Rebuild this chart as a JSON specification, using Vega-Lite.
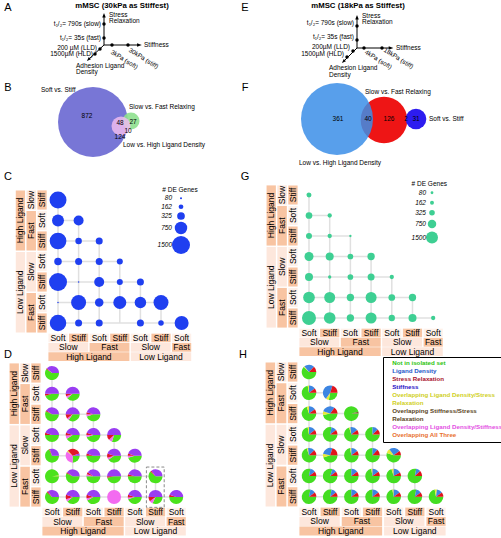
{
"$schema": "https://vega.github.io/schema/vega-lite/v6.json",
"padding": 0,
"background": "white",
"spacing": 0,
"config": {"view": {"stroke": null}, "font": "Liberation Sans"},
"resolve": {"scale": {"size": "independent", "color": "independent"}},
"hconcat": [
{"vconcat": [
 {"width": 250, "height": 183, "data": {"name": "ab"},
  "encoding": {"x": {"field": "x", "type": "quantitative", "scale": {"domain": [0, 250], "nice": false, "zero": false}, "axis": null},
               "y": {"field": "y", "type": "quantitative", "scale": {"domain": [0, 183], "reverse": true, "nice": false, "zero": false}, "axis": null}},
  "layer": [
   {"transform": [{"filter": "datum.s=='Soft vs. Stiff'"}], "mark": {"type": "circle", "color": "#7876d6", "opacity": 1}, "encoding": {"size": {"field": "n", "type": "quantitative", "scale": {"domain": [0, 1054], "range": [0, 4900]}, "legend": null}}},
   {"transform": [{"filter": "datum.s=='Slow vs. Fast Relaxing'"}], "mark": {"type": "circle", "color": "#8ee08e", "opacity": 0.9}, "encoding": {"size": {"field": "n", "type": "quantitative", "legend": null}}},
   {"transform": [{"filter": "datum.s=='Low vs. High Ligand Density'"}], "mark": {"type": "circle", "color": "#efbcef", "opacity": 0.85}, "encoding": {"size": {"field": "n", "type": "quantitative", "legend": null}}},
   {"transform": [{"filter": "datum.g=='ax'"}], "mark": {"type": "rule", "color": "black", "strokeWidth": 1}, "encoding": {"x2": {"field": "x2"}, "y2": {"field": "y2"}}},
   {"transform": [{"filter": "datum.g=='ar'"}], "mark": {"type": "point", "filled": true, "color": "black", "opacity": 1, "size": 30}, "encoding": {"shape": {"field": "d", "type": "nominal", "scale": {"domain": ["up", "right", "dl"], "range": ["M0,-1L0.65,0.7L-0.65,0.7Z", "M1,0L-0.7,0.65L-0.7,-0.65Z", "M-0.75,0.75L0.7,0.08L-0.08,-0.7Z"]}, "legend": null}}},
   {"transform": [{"filter": "datum.g=='dot'"}], "mark": {"type": "circle", "color": "black", "opacity": 1, "size": 12}},
   {"transform": [{"filter": "datum.g=='tr'"}], "mark": {"type": "text", "align": "right", "fontSize": 6.5}, "encoding": {"text": {"field": "t", "type": "nominal"}}},
   {"transform": [{"filter": "datum.g=='tl'"}], "mark": {"type": "text", "align": "left", "fontSize": 6.5}, "encoding": {"text": {"field": "t", "type": "nominal"}}},
   {"transform": [{"filter": "datum.g=='rot'"}], "mark": {"type": "text", "align": "left", "baseline": "top", "angle": 32, "fontSize": 6.3}, "encoding": {"text": {"field": "t", "type": "nominal"}}},
   {"transform": [{"filter": "datum.g=='title'"}], "mark": {"type": "text", "fontSize": 7.8, "fontWeight": "bold"}, "encoding": {"text": {"field": "t", "type": "nominal"}}},
   {"transform": [{"filter": "datum.g=='let'"}], "mark": {"type": "text", "fontSize": 11}, "encoding": {"text": {"field": "t", "type": "nominal"}}},
   {"transform": [{"filter": "datum.g=='num'"}], "mark": {"type": "text", "fontSize": 6.5}, "encoding": {"text": {"field": "t", "type": "nominal"}}}
  ]},
 {"width": 250, "height": 174,
  "layer": [
   {"data": {"name": "idx"}, "transform": [{"calculate": "0", "as": "z"}], "mark": {"type": "rule", "color": "#e0e0e0", "strokeWidth": 1.5}, "encoding": {"x": {"field": "z", "type": "quantitative", "scale": {"domain": [-2.816, 9.32], "nice": false, "zero": false}, "axis": null}, "x2": {"field": "i"}, "y": {"field": "i", "type": "quantitative", "scale": {"domain": [-0.829, 7.659], "reverse": true, "nice": false, "zero": false}, "axis": null}}},
   {"data": {"name": "idx"}, "transform": [{"calculate": "6", "as": "z"}], "mark": {"type": "rule", "color": "#e0e0e0", "strokeWidth": 1.5}, "encoding": {"x": {"field": "i", "type": "quantitative", "axis": null}, "y": {"field": "i", "type": "quantitative", "axis": null}, "y2": {"field": "z"}}},
   {"data": {"name": "rh"}, "transform": [{"calculate": "(datum.a+datum.b)/2", "as": "m"}, {"calculate": "datum.l=='lig' ? -2.05 : datum.l=='sf' ? -1.53 : -1.0", "as": "x0"}, {"calculate": "datum.l=='lig' ? -1.6 : datum.l=='sf' ? -1.07 : -0.55", "as": "x1"}, {"calculate": "(datum.x0+datum.x1)/2", "as": "xm"}], "layer": [
     {"mark": {"type": "rect", "yOffset": -9.6, "y2Offset": 9.6}, "encoding": {"x": {"field": "x0", "type": "quantitative", "axis": null}, "x2": {"field": "x1"}, "y": {"field": "a", "type": "quantitative", "axis": null}, "y2": {"field": "b"}, "fill": {"field": "t", "type": "nominal", "scale": {"domain": ["High Ligand", "Low Ligand", "Slow", "Fast", "Soft", "Stiff"], "range": ["#f8c4a2", "#fde7dc", "#fde7dc", "#f8c4a2", "#fef1ea", "#f8c4a2"]}, "legend": null}}},
     {"mark": {"type": "text", "angle": 270, "fontSize": 8.5}, "encoding": {"x": {"field": "xm", "type": "quantitative", "axis": null}, "y": {"field": "m", "type": "quantitative", "axis": null}, "text": {"field": "t", "type": "nominal"}}}]},
   {"data": {"name": "ch"}, "transform": [{"calculate": "(datum.a+datum.b)/2", "as": "m"}, {"calculate": "datum.l=='ss' ? 6.52 : datum.l=='sf' ? 6.97 : 7.43", "as": "y0"}, {"calculate": "datum.l=='ss' ? 6.94 : datum.l=='sf' ? 7.4 : 7.86", "as": "y1"}, {"calculate": "(datum.y0+datum.y1)/2", "as": "ym"}], "layer": [
     {"mark": {"type": "rect", "xOffset": -9.6, "x2Offset": 9.6}, "encoding": {"x": {"field": "a", "type": "quantitative", "axis": null}, "x2": {"field": "b"}, "y": {"field": "y0", "type": "quantitative", "axis": null}, "y2": {"field": "y1"}, "fill": {"field": "t", "type": "nominal", "legend": null}}},
     {"mark": {"type": "text", "fontSize": 8.5}, "encoding": {"x": {"field": "m", "type": "quantitative", "axis": null}, "y": {"field": "ym", "type": "quantitative", "axis": null}, "text": {"field": "t", "type": "nominal"}}}]},
   {"data": {"name": "cb"}, "mark": {"type": "circle", "color": "#1f3ff0", "opacity": 1}, "encoding": {"x": {"field": "c", "type": "quantitative", "axis": null}, "y": {"field": "r", "type": "quantitative", "axis": null},
     "size": {"field": "n", "type": "quantitative", "scale": {"domain": [62, 1500], "range": [0, 324], "zero": false, "clamp": true},
       "legend": {"title": "# DE Genes", "values": [80, 162, 325, 750, 1500], "format": "d", "orient": "none", "legendX": 162.3, "legendY": 3.5, "columns": 1, "symbolOffset": 9.7, "labelOffset": -18, "labelAlign": "right", "labelFontStyle": "italic", "labelFontSize": 6.5, "titleFontSize": 6.5, "titleFontWeight": "normal", "titlePadding": 2, "rowPadding": 1.5, "symbolFillColor": "#1f3ff0", "symbolStrokeWidth": 0, "symbolOpacity": 1, "padding": 0}}}}
  ]},
 {"width": 250, "height": 181,
  "layer": [
   {"data": {"name": "idx"}, "transform": [{"calculate": "0", "as": "z"}], "mark": {"type": "rule", "color": "#e0e0e0", "strokeWidth": 1.5}, "encoding": {"x": {"field": "z", "type": "quantitative", "scale": {"domain": [-2.512, 9.565], "nice": false, "zero": false}, "axis": null}, "x2": {"field": "i"}, "y": {"field": "i", "type": "quantitative", "scale": {"domain": [-0.774, 7.983], "reverse": true, "nice": false, "zero": false}, "axis": null}}},
   {"data": {"name": "idx"}, "transform": [{"calculate": "6", "as": "z"}], "mark": {"type": "rule", "color": "#e0e0e0", "strokeWidth": 1.5}, "encoding": {"x": {"field": "i", "type": "quantitative", "axis": null}, "y": {"field": "i", "type": "quantitative", "axis": null}, "y2": {"field": "z"}}},
   {"data": {"name": "rh"}, "transform": [{"calculate": "(datum.a+datum.b)/2", "as": "m"}, {"calculate": "datum.l=='lig' ? -2.05 : datum.l=='sf' ? -1.53 : -1.0", "as": "x0"}, {"calculate": "datum.l=='lig' ? -1.6 : datum.l=='sf' ? -1.07 : -0.55", "as": "x1"}, {"calculate": "(datum.x0+datum.x1)/2", "as": "xm"}], "layer": [
     {"mark": {"type": "rect", "yOffset": -9.6, "y2Offset": 9.6}, "encoding": {"x": {"field": "x0", "type": "quantitative", "axis": null}, "x2": {"field": "x1"}, "y": {"field": "a", "type": "quantitative", "axis": null}, "y2": {"field": "b"}, "fill": {"field": "t", "type": "nominal", "scale": {"domain": ["High Ligand", "Low Ligand", "Slow", "Fast", "Soft", "Stiff"], "range": ["#f8c4a2", "#fde7dc", "#fde7dc", "#f8c4a2", "#fef1ea", "#f8c4a2"]}, "legend": null}}},
     {"mark": {"type": "text", "angle": 270, "fontSize": 8.5}, "encoding": {"x": {"field": "xm", "type": "quantitative", "axis": null}, "y": {"field": "m", "type": "quantitative", "axis": null}, "text": {"field": "t", "type": "nominal"}}}]},
   {"data": {"name": "ch"}, "transform": [{"calculate": "(datum.a+datum.b)/2", "as": "m"}, {"calculate": "datum.l=='ss' ? 6.52 : datum.l=='sf' ? 6.97 : 7.43", "as": "y0"}, {"calculate": "datum.l=='ss' ? 6.94 : datum.l=='sf' ? 7.4 : 7.86", "as": "y1"}, {"calculate": "(datum.y0+datum.y1)/2", "as": "ym"}], "layer": [
     {"mark": {"type": "rect", "xOffset": -9.6, "x2Offset": 9.6}, "encoding": {"x": {"field": "a", "type": "quantitative", "axis": null}, "x2": {"field": "b"}, "y": {"field": "y0", "type": "quantitative", "axis": null}, "y2": {"field": "y1"}, "fill": {"field": "t", "type": "nominal", "legend": null}}},
     {"mark": {"type": "text", "fontSize": 8.5}, "encoding": {"x": {"field": "m", "type": "quantitative", "axis": null}, "y": {"field": "ym", "type": "quantitative", "axis": null}, "text": {"field": "t", "type": "nominal"}}}]},
   {"data": {"name": "mk"}, "mark": {"type": "text", "fontSize": 11}, "encoding": {"x": {"field": "x", "type": "quantitative", "axis": null}, "y": {"field": "y", "type": "quantitative", "axis": null}, "text": {"field": "t", "type": "nominal"}}},
   {"data": {"name": "bx"}, "mark": {"type": "rect", "filled": false, "color": "#8a8a8a", "strokeDash": [3, 2], "strokeWidth": 1}, "encoding": {"x": {"field": "x0", "type": "quantitative", "axis": null}, "x2": {"field": "x1"}, "y": {"field": "y0", "type": "quantitative", "axis": null}, "y2": {"field": "y1"}}},
   {"data": {"name": "dp"}, "transform": [{"stack": "v", "groupby": ["r", "c"], "offset": "normalize", "as": ["t0", "t1"]}],
    "mark": {"type": "arc", "outerRadius": 7},
    "encoding": {"x": {"field": "c", "type": "quantitative", "axis": null}, "y": {"field": "r", "type": "quantitative", "axis": null},
      "theta": {"field": "t0", "type": "quantitative", "scale": {"domain": [0, 1], "range": [1.5708, 7.854]}}, "theta2": {"field": "t1"},
      "color": {"field": "k", "type": "nominal", "scale": {"domain": ["N", "LD", "SR", "ST", "LDSR", "STSR", "LDST", "ALL"], "range": ["#4be21c", "#3a7fe0", "#e11428", "#9a3df2", "#e2e23a", "#7a6030", "#f36bf0", "#f08030"]}, "legend": null}}}
  ]}
], "spacing": 0, "bounds": "flush", "resolve": {"scale": {"size": "independent", "color": "independent"}}},
{"vconcat": [
 {"width": 251, "height": 183, "data": {"name": "ef"},
  "encoding": {"x": {"field": "x", "type": "quantitative", "scale": {"domain": [0, 251], "nice": false, "zero": false}, "axis": null},
               "y": {"field": "y", "type": "quantitative", "scale": {"domain": [0, 183], "reverse": true, "nice": false, "zero": false}, "axis": null}},
  "layer": [
   {"transform": [{"filter": "datum.s=='SR'"}], "mark": {"type": "circle", "color": "#ee1515", "opacity": 1}, "encoding": {"size": {"field": "n", "type": "quantitative", "scale": {"domain": [0, 401], "range": [0, 5184]}, "legend": null}}},
   {"transform": [{"filter": "datum.s=='LD'"}], "mark": {"type": "circle", "color": "#3b8ee8", "opacity": 0.85}, "encoding": {"size": {"field": "n", "type": "quantitative", "legend": null}}},
   {"transform": [{"filter": "datum.s=='ST'"}], "mark": {"type": "circle", "color": "#2d1cf0", "opacity": 1}, "encoding": {"size": {"field": "n", "type": "quantitative", "legend": null}}},
   {"transform": [{"filter": "datum.g=='ax'"}], "mark": {"type": "rule", "color": "black", "strokeWidth": 1}, "encoding": {"x2": {"field": "x2"}, "y2": {"field": "y2"}}},
   {"transform": [{"filter": "datum.g=='ar'"}], "mark": {"type": "point", "filled": true, "color": "black", "opacity": 1, "size": 30}, "encoding": {"shape": {"field": "d", "type": "nominal", "scale": {"domain": ["up", "right", "dl"], "range": ["M0,-1L0.65,0.7L-0.65,0.7Z", "M1,0L-0.7,0.65L-0.7,-0.65Z", "M-0.75,0.75L0.7,0.08L-0.08,-0.7Z"]}, "legend": null}}},
   {"transform": [{"filter": "datum.g=='dot'"}], "mark": {"type": "circle", "color": "black", "opacity": 1, "size": 12}},
   {"transform": [{"filter": "datum.g=='tr'"}], "mark": {"type": "text", "align": "right", "fontSize": 6.5}, "encoding": {"text": {"field": "t", "type": "nominal"}}},
   {"transform": [{"filter": "datum.g=='tl'"}], "mark": {"type": "text", "align": "left", "fontSize": 6.5}, "encoding": {"text": {"field": "t", "type": "nominal"}}},
   {"transform": [{"filter": "datum.g=='rot'"}], "mark": {"type": "text", "align": "left", "baseline": "top", "angle": 32, "fontSize": 6.3}, "encoding": {"text": {"field": "t", "type": "nominal"}}},
   {"transform": [{"filter": "datum.g=='title'"}], "mark": {"type": "text", "fontSize": 7.8, "fontWeight": "bold"}, "encoding": {"text": {"field": "t", "type": "nominal"}}},
   {"transform": [{"filter": "datum.g=='num'"}], "mark": {"type": "text", "fontSize": 6.5}, "encoding": {"text": {"field": "t", "type": "nominal"}}}
  ]},
 {"width": 251, "height": 174,
  "layer": [
   {"data": {"name": "idx"}, "transform": [{"calculate": "0", "as": "z"}], "mark": {"type": "rule", "color": "#e0e0e0", "strokeWidth": 1.5}, "encoding": {"x": {"field": "z", "type": "quantitative", "scale": {"domain": [-2.85, 9.276], "nice": false, "zero": false}, "axis": null}, "x2": {"field": "i"}, "y": {"field": "i", "type": "quantitative", "scale": {"domain": [-0.585, 7.903], "reverse": true, "nice": false, "zero": false}, "axis": null}}},
   {"data": {"name": "idx"}, "transform": [{"calculate": "6", "as": "z"}], "mark": {"type": "rule", "color": "#e0e0e0", "strokeWidth": 1.5}, "encoding": {"x": {"field": "i", "type": "quantitative", "axis": null}, "y": {"field": "i", "type": "quantitative", "axis": null}, "y2": {"field": "z"}}},
   {"data": {"name": "rh"}, "transform": [{"calculate": "(datum.a+datum.b)/2", "as": "m"}, {"calculate": "datum.l=='lig' ? -2.05 : datum.l=='sf' ? -1.53 : -1.0", "as": "x0"}, {"calculate": "datum.l=='lig' ? -1.6 : datum.l=='sf' ? -1.07 : -0.55", "as": "x1"}, {"calculate": "(datum.x0+datum.x1)/2", "as": "xm"}], "layer": [
     {"mark": {"type": "rect", "yOffset": -9.6, "y2Offset": 9.6}, "encoding": {"x": {"field": "x0", "type": "quantitative", "axis": null}, "x2": {"field": "x1"}, "y": {"field": "a", "type": "quantitative", "axis": null}, "y2": {"field": "b"}, "fill": {"field": "t", "type": "nominal", "scale": {"domain": ["High Ligand", "Low Ligand", "Slow", "Fast", "Soft", "Stiff"], "range": ["#f8c4a2", "#fde7dc", "#fde7dc", "#f8c4a2", "#fef1ea", "#f8c4a2"]}, "legend": null}}},
     {"mark": {"type": "text", "angle": 270, "fontSize": 8.5}, "encoding": {"x": {"field": "xm", "type": "quantitative", "axis": null}, "y": {"field": "m", "type": "quantitative", "axis": null}, "text": {"field": "t", "type": "nominal"}}}]},
   {"data": {"name": "ch"}, "transform": [{"calculate": "(datum.a+datum.b)/2", "as": "m"}, {"calculate": "datum.l=='ss' ? 6.52 : datum.l=='sf' ? 6.97 : 7.43", "as": "y0"}, {"calculate": "datum.l=='ss' ? 6.94 : datum.l=='sf' ? 7.4 : 7.86", "as": "y1"}, {"calculate": "(datum.y0+datum.y1)/2", "as": "ym"}], "layer": [
     {"mark": {"type": "rect", "xOffset": -9.6, "x2Offset": 9.6}, "encoding": {"x": {"field": "a", "type": "quantitative", "axis": null}, "x2": {"field": "b"}, "y": {"field": "y0", "type": "quantitative", "axis": null}, "y2": {"field": "y1"}, "fill": {"field": "t", "type": "nominal", "legend": null}}},
     {"mark": {"type": "text", "fontSize": 8.5}, "encoding": {"x": {"field": "m", "type": "quantitative", "axis": null}, "y": {"field": "ym", "type": "quantitative", "axis": null}, "text": {"field": "t", "type": "nominal"}}}]},
   {"data": {"name": "gb"}, "mark": {"type": "circle", "color": "#3ecf93", "opacity": 1}, "encoding": {"x": {"field": "c", "type": "quantitative", "axis": null}, "y": {"field": "r", "type": "quantitative", "axis": null},
     "size": {"field": "n", "type": "quantitative", "scale": {"domain": [0, 1500], "range": [0, 144]},
       "legend": {"title": "# DE Genes", "values": [80, 162, 325, 750, 1500], "format": "d", "orient": "none", "legendX": 161.6, "legendY": -2, "columns": 1, "symbolOffset": 14.4, "labelOffset": -12, "labelAlign": "right", "labelFontStyle": "italic", "labelFontSize": 6.5, "titleFontSize": 6.5, "titleFontWeight": "normal", "titlePadding": 2, "rowPadding": 3, "symbolFillColor": "#3ecf93", "symbolStrokeWidth": 0, "symbolOpacity": 1, "padding": 0}}}}
  ]},
 {"width": 251, "height": 181,
  "layer": [
   {"data": {"name": "idx"}, "transform": [{"calculate": "0", "as": "z"}], "mark": {"type": "rule", "color": "#e0e0e0", "strokeWidth": 1.5}, "encoding": {"x": {"field": "z", "type": "quantitative", "scale": {"domain": [-2.787, 9.069], "nice": false, "zero": false}, "axis": null}, "x2": {"field": "i"}, "y": {"field": "i", "type": "quantitative", "scale": {"domain": [-0.721, 7.981], "reverse": true, "nice": false, "zero": false}, "axis": null}}},
   {"data": {"name": "idx"}, "transform": [{"calculate": "6", "as": "z"}], "mark": {"type": "rule", "color": "#e0e0e0", "strokeWidth": 1.5}, "encoding": {"x": {"field": "i", "type": "quantitative", "axis": null}, "y": {"field": "i", "type": "quantitative", "axis": null}, "y2": {"field": "z"}}},
   {"data": {"name": "rh"}, "transform": [{"calculate": "(datum.a+datum.b)/2", "as": "m"}, {"calculate": "datum.l=='lig' ? -2.05 : datum.l=='sf' ? -1.53 : -1.0", "as": "x0"}, {"calculate": "datum.l=='lig' ? -1.6 : datum.l=='sf' ? -1.07 : -0.55", "as": "x1"}, {"calculate": "(datum.x0+datum.x1)/2", "as": "xm"}], "layer": [
     {"mark": {"type": "rect", "yOffset": -9.6, "y2Offset": 9.6}, "encoding": {"x": {"field": "x0", "type": "quantitative", "axis": null}, "x2": {"field": "x1"}, "y": {"field": "a", "type": "quantitative", "axis": null}, "y2": {"field": "b"}, "fill": {"field": "t", "type": "nominal", "scale": {"domain": ["High Ligand", "Low Ligand", "Slow", "Fast", "Soft", "Stiff"], "range": ["#f8c4a2", "#fde7dc", "#fde7dc", "#f8c4a2", "#fef1ea", "#f8c4a2"]}, "legend": null}}},
     {"mark": {"type": "text", "angle": 270, "fontSize": 8.5}, "encoding": {"x": {"field": "xm", "type": "quantitative", "axis": null}, "y": {"field": "m", "type": "quantitative", "axis": null}, "text": {"field": "t", "type": "nominal"}}}]},
   {"data": {"name": "ch"}, "transform": [{"calculate": "(datum.a+datum.b)/2", "as": "m"}, {"calculate": "datum.l=='ss' ? 6.52 : datum.l=='sf' ? 6.97 : 7.43", "as": "y0"}, {"calculate": "datum.l=='ss' ? 6.94 : datum.l=='sf' ? 7.4 : 7.86", "as": "y1"}, {"calculate": "(datum.y0+datum.y1)/2", "as": "ym"}], "layer": [
     {"mark": {"type": "rect", "xOffset": -9.6, "x2Offset": 9.6}, "encoding": {"x": {"field": "a", "type": "quantitative", "axis": null}, "x2": {"field": "b"}, "y": {"field": "y0", "type": "quantitative", "axis": null}, "y2": {"field": "y1"}, "fill": {"field": "t", "type": "nominal", "legend": null}}},
     {"mark": {"type": "text", "fontSize": 8.5}, "encoding": {"x": {"field": "m", "type": "quantitative", "axis": null}, "y": {"field": "ym", "type": "quantitative", "axis": null}, "text": {"field": "t", "type": "nominal"}}}]},
   {"data": {"name": "hp"}, "transform": [{"stack": "v", "groupby": ["r", "c"], "offset": "normalize", "as": ["t0", "t1"]}],
    "mark": {"type": "arc", "outerRadius": 7.3},
    "encoding": {"x": {"field": "c", "type": "quantitative", "axis": null}, "y": {"field": "r", "type": "quantitative", "axis": null},
      "theta": {"field": "t0", "type": "quantitative", "scale": {"domain": [0, 1], "range": [1.5708, 7.854]}}, "theta2": {"field": "t1"},
      "color": {"field": "k", "type": "nominal", "scale": {"domain": ["N", "LD", "SR", "ST", "LDSR", "STSR", "LDST", "ALL"], "range": ["#44dd22", "#3d85e2", "#e0141c", "#3a1fe0", "#e8e83a", "#7a6030", "#f06af0", "#f08030"]},
        "legend": {"orient": "none", "legendX": 133, "legendY": 0, "title": null, "columns": 1, "symbolSize": 0, "symbolOpacity": 0, "symbolStrokeWidth": 0, "labelOffset": 0, "labelFontSize": 6.2, "labelFontWeight": "bold", "labelLimit": 0, "rowPadding": 1, "padding": 3, "strokeColor": "#000000", "fillColor": "#ffffff",
          "labelColor": {"expr": "{'N':'#2cc40c','LD':'#1d57c9','SR':'#a8102a','ST':'#2a0fc6','LDSR':'#cfcf1c','STSR':'#5a4624','LDST':'#e350e3','ALL':'#e8702e'}[datum.value]"},
          "labelExpr": "{'N':'Not in isolated set','LD':'Ligand Density','SR':'Stress Relaxation','ST':'Stiffness','LDSR':['Overlapping Ligand Density/Stress','Relaxation'],'STSR':['Overlapping Stiffness/Stress','Relaxation'],'LDST':'Overlapping Ligand Density/Stiffness','ALL':'Overlapping All Three'}[datum.label]"}}}}
  ]}
], "spacing": 0, "bounds": "flush", "resolve": {"scale": {"size": "independent", "color": "independent"}}}
],
"datasets": {
"mk": [{"t": "D", "x": -2.126, "y": -0.87}, {"t": "H", "x": 9.23, "y": -0.87}],
"bx": [{"x0": 4.56, "x1": 5.42, "y0": 4.55, "y1": 6.5}],
"ab": [
 {"g": "ax", "x": 104, "y": 45, "x2": 104, "y2": 16},
 {"g": "ax", "x": 104, "y": 45, "x2": 139, "y2": 45},
 {"g": "ax", "x": 104, "y": 45, "x2": 89, "y2": 59},
 {"g": "ar", "d": "up", "x": 104, "y": 15.7},
 {"g": "ar", "d": "right", "x": 139, "y": 45},
 {"g": "ar", "d": "dl", "x": 89, "y": 59},
 {"g": "dot", "x": 104, "y": 24}, {"g": "dot", "x": 104, "y": 38}, {"g": "dot", "x": 112, "y": 45}, {"g": "dot", "x": 128, "y": 45}, {"g": "dot", "x": 100, "y": 49}, {"g": "dot", "x": 95, "y": 54},
 {"g": "tr", "t": "t₁/₂= 790s (slow)", "x": 101, "y": 24},
 {"g": "tr", "t": "t₁/₂= 35s (fast)", "x": 101, "y": 38},
 {"g": "tr", "t": "200 µM (LLD)", "x": 97, "y": 48},
 {"g": "tr", "t": "1500µM (HLD)", "x": 93, "y": 54},
 {"g": "tl", "t": "Stress", "x": 109, "y": 15},
 {"g": "tl", "t": "Relaxation", "x": 109, "y": 21},
 {"g": "tl", "t": "Stiffness", "x": 144, "y": 45},
 {"g": "tl", "t": "Adhesion Ligand", "x": 76, "y": 66},
 {"g": "tl", "t": "Density", "x": 76, "y": 72},
 {"g": "tl", "t": "Soft vs. Stiff", "x": 41, "y": 90},
 {"g": "tl", "t": "Slow vs. Fast Relaxing", "x": 129, "y": 107},
 {"g": "tl", "t": "Low vs. High Ligand Density", "x": 123, "y": 145},
 {"g": "rot", "t": "3kPa (soft)", "x": 113, "y": 49},
 {"g": "rot", "t": "30kPa (stiff)", "x": 131, "y": 47},
 {"g": "title", "t": "mMSC (30kPa as Stiffest)", "x": 122, "y": 6},
 {"g": "let", "t": "A", "x": 8, "y": 8}, {"g": "let", "t": "B", "x": 8, "y": 88}, {"g": "let", "t": "C", "x": 8, "y": 177},
 {"g": "let", "t": "E", "x": 245, "y": 8}, {"g": "let", "t": "F", "x": 245, "y": 88}, {"g": "let", "t": "G", "x": 245, "y": 177},
 {"g": "num", "t": "872", "x": 87, "y": 116}, {"g": "num", "t": "48", "x": 120, "y": 123}, {"g": "num", "t": "27", "x": 133, "y": 122}, {"g": "num", "t": "10", "x": 128, "y": 130.5}, {"g": "num", "t": "124", "x": 120, "y": 137},
 {"g": "venn", "s": "Soft vs. Stiff", "x": 93, "y": 122, "n": 1054},
 {"g": "venn", "s": "Slow vs. Fast Relaxing", "x": 131, "y": 121, "n": 62},
 {"g": "venn", "s": "Low vs. High Ligand Density", "x": 121, "y": 126, "n": 78}
],
"ef": [
 {"g": "ax", "x": 107, "y": 48, "x2": 107, "y2": 18},
 {"g": "ax", "x": 107, "y": 48, "x2": 140.6, "y2": 48},
 {"g": "ax", "x": 107, "y": 48, "x2": 94, "y2": 61},
 {"g": "ar", "d": "up", "x": 107, "y": 17.7},
 {"g": "ar", "d": "right", "x": 140.6, "y": 48},
 {"g": "ar", "d": "dl", "x": 94, "y": 61},
 {"g": "dot", "x": 107, "y": 26}, {"g": "dot", "x": 107, "y": 40}, {"g": "dot", "x": 114, "y": 48}, {"g": "dot", "x": 132, "y": 48}, {"g": "dot", "x": 103, "y": 51}, {"g": "dot", "x": 97, "y": 57},
 {"g": "tr", "t": "t₁/₂= 790s (slow)", "x": 104, "y": 23},
 {"g": "tr", "t": "t₁/₂= 35s (fast)", "x": 104, "y": 37},
 {"g": "tr", "t": "200µM (LLD)", "x": 100, "y": 47},
 {"g": "tr", "t": "1500µM (HLD)", "x": 94, "y": 54},
 {"g": "tl", "t": "Stress", "x": 112, "y": 16},
 {"g": "tl", "t": "Relaxation", "x": 112, "y": 22},
 {"g": "tl", "t": "Stiffness", "x": 146, "y": 48},
 {"g": "tl", "t": "Adhesion Ligand", "x": 79, "y": 68},
 {"g": "tl", "t": "Density", "x": 79, "y": 75},
 {"g": "tl", "t": "Slow vs. Fast Relaxing", "x": 115, "y": 92},
 {"g": "tl", "t": "Low vs. High Ligand Density", "x": 49, "y": 163},
 {"g": "tl", "t": "Soft vs. Stiff", "x": 179, "y": 119},
 {"g": "rot", "t": "4kPa (soft)", "x": 117, "y": 49},
 {"g": "rot", "t": "18kPa (stiff)", "x": 136, "y": 47},
 {"g": "title", "t": "mMSC (18kPa as Stiffest)", "x": 108, "y": 6},
 {"g": "num", "t": "361", "x": 88, "y": 119}, {"g": "num", "t": "40", "x": 118, "y": 119}, {"g": "num", "t": "126", "x": 139, "y": 119}, {"g": "num", "t": "2", "x": 156, "y": 119}, {"g": "num", "t": "31", "x": 166, "y": 119},
 {"g": "venn", "s": "SR", "x": 134, "y": 120, "n": 168},
 {"g": "venn", "s": "LD", "x": 87, "y": 119, "n": 401},
 {"g": "venn", "s": "ST", "x": 166, "y": 119, "n": 33}
],
"idx": [{"i": 0}, {"i": 1}, {"i": 2}, {"i": 3}, {"i": 4}, {"i": 5}, {"i": 6}],
"rh": [
 {"l": "lig", "t": "High Ligand", "a": 0, "b": 2}, {"l": "lig", "t": "Low Ligand", "a": 3, "b": 6},
 {"l": "sf", "t": "Slow", "a": 0, "b": 0}, {"l": "sf", "t": "Fast", "a": 1, "b": 2}, {"l": "sf", "t": "Slow", "a": 3, "b": 4}, {"l": "sf", "t": "Fast", "a": 5, "b": 6},
 {"l": "ss", "t": "Stiff", "a": 0, "b": 0}, {"l": "ss", "t": "Soft", "a": 1, "b": 1}, {"l": "ss", "t": "Stiff", "a": 2, "b": 2}, {"l": "ss", "t": "Soft", "a": 3, "b": 3}, {"l": "ss", "t": "Stiff", "a": 4, "b": 4}, {"l": "ss", "t": "Soft", "a": 5, "b": 5}, {"l": "ss", "t": "Stiff", "a": 6, "b": 6}
],
"ch": [
 {"l": "ss", "t": "Soft", "a": 0, "b": 0}, {"l": "ss", "t": "Stiff", "a": 1, "b": 1}, {"l": "ss", "t": "Soft", "a": 2, "b": 2}, {"l": "ss", "t": "Stiff", "a": 3, "b": 3}, {"l": "ss", "t": "Soft", "a": 4, "b": 4}, {"l": "ss", "t": "Stiff", "a": 5, "b": 5}, {"l": "ss", "t": "Soft", "a": 6, "b": 6},
 {"l": "sf", "t": "Slow", "a": 0, "b": 1}, {"l": "sf", "t": "Fast", "a": 2, "b": 3}, {"l": "sf", "t": "Slow", "a": 4, "b": 5}, {"l": "sf", "t": "Fast", "a": 6, "b": 6},
 {"l": "lig", "t": "High Ligand", "a": 0, "b": 3}, {"l": "lig", "t": "Low Ligand", "a": 4, "b": 6}
],
"cb": [
 {"r": 0, "c": 0, "n": 1340},
 {"r": 1, "c": 0, "n": 700}, {"r": 1, "c": 1, "n": 506},
 {"r": 2, "c": 0, "n": 1300}, {"r": 2, "c": 1, "n": 250}, {"r": 2, "c": 2, "n": 280},
 {"r": 3, "c": 0, "n": 312}, {"r": 3, "c": 1, "n": 280}, {"r": 3, "c": 2, "n": 280}, {"r": 3, "c": 3, "n": 222},
 {"r": 4, "c": 0, "n": 1500}, {"r": 4, "c": 1, "n": 72}, {"r": 4, "c": 2, "n": 506}, {"r": 4, "c": 3, "n": 222}, {"r": 4, "c": 4, "n": 280},
 {"r": 5, "c": 0, "n": 72}, {"r": 5, "c": 1, "n": 1060}, {"r": 5, "c": 2, "n": 383}, {"r": 5, "c": 3, "n": 812}, {"r": 5, "c": 4, "n": 649}, {"r": 5, "c": 5, "n": 1060},
 {"r": 6, "c": 0, "n": 1270}, {"r": 6, "c": 1, "n": 280}, {"r": 6, "c": 2, "n": 280}, {"r": 6, "c": 4, "n": 280}, {"r": 6, "c": 5, "n": 196}, {"r": 6, "c": 6, "n": 932}
],
"gb": [
 {"r": 0, "c": 0, "n": 260},
 {"r": 1, "c": 0, "n": 467}, {"r": 1, "c": 1, "n": 193},
 {"r": 2, "c": 0, "n": 375}, {"r": 2, "c": 1, "n": 193}, {"r": 2, "c": 2, "n": 55},
 {"r": 3, "c": 0, "n": 844}, {"r": 3, "c": 1, "n": 667}, {"r": 3, "c": 2, "n": 335}, {"r": 3, "c": 3, "n": 560},
 {"r": 4, "c": 0, "n": 667}, {"r": 4, "c": 1, "n": 115}, {"r": 4, "c": 2, "n": 335}, {"r": 4, "c": 3, "n": 510}, {"r": 4, "c": 4, "n": 193},
 {"r": 5, "c": 0, "n": 1418}, {"r": 5, "c": 1, "n": 1260}, {"r": 5, "c": 2, "n": 560}, {"r": 5, "c": 3, "n": 1260}, {"r": 5, "c": 4, "n": 467}, {"r": 5, "c": 5, "n": 560},
 {"r": 6, "c": 0, "n": 2042}, {"r": 6, "c": 1, "n": 1418}, {"r": 6, "c": 2, "n": 560}, {"r": 6, "c": 3, "n": 1260}, {"r": 6, "c": 4, "n": 418}, {"r": 6, "c": 5, "n": 667}, {"r": 6, "c": 6, "n": 193}
],
"dp": [
 {"r": 0, "c": 0, "k": "N", "v": 0.6}, {"r": 0, "c": 0, "k": "SR", "v": 0.02}, {"r": 0, "c": 0, "k": "ST", "v": 0.38},
 {"r": 1, "c": 0, "k": "N", "v": 0.45}, {"r": 1, "c": 0, "k": "SR", "v": 0.05}, {"r": 1, "c": 0, "k": "ST", "v": 0.5},
 {"r": 1, "c": 1, "k": "N", "v": 0.39}, {"r": 1, "c": 1, "k": "LDST", "v": 0.05}, {"r": 1, "c": 1, "k": "SR", "v": 0.06}, {"r": 1, "c": 1, "k": "ST", "v": 0.5},
 {"r": 2, "c": 0, "k": "N", "v": 0.57}, {"r": 2, "c": 0, "k": "SR", "v": 0.03}, {"r": 2, "c": 0, "k": "ST", "v": 0.4},
 {"r": 2, "c": 1, "k": "N", "v": 0.35}, {"r": 2, "c": 1, "k": "LDST", "v": 0.05}, {"r": 2, "c": 1, "k": "SR", "v": 0.1}, {"r": 2, "c": 1, "k": "ST", "v": 0.5},
 {"r": 2, "c": 2, "k": "N", "v": 0.45}, {"r": 2, "c": 2, "k": "LDST", "v": 0.05}, {"r": 2, "c": 2, "k": "SR", "v": 0.05}, {"r": 2, "c": 2, "k": "ST", "v": 0.45},
 {"r": 3, "c": 0, "k": "N", "v": 0.5}, {"r": 3, "c": 0, "k": "SR", "v": 0.05}, {"r": 3, "c": 0, "k": "ST", "v": 0.45},
 {"r": 3, "c": 1, "k": "N", "v": 0.41}, {"r": 3, "c": 1, "k": "LDST", "v": 0.08}, {"r": 3, "c": 1, "k": "SR", "v": 0.06}, {"r": 3, "c": 1, "k": "ST", "v": 0.45},
 {"r": 3, "c": 2, "k": "N", "v": 0.45}, {"r": 3, "c": 2, "k": "LDST", "v": 0.05}, {"r": 3, "c": 2, "k": "SR", "v": 0.05}, {"r": 3, "c": 2, "k": "ST", "v": 0.45},
 {"r": 3, "c": 3, "k": "N", "v": 0.3}, {"r": 3, "c": 3, "k": "LDST", "v": 0.08}, {"r": 3, "c": 3, "k": "SR", "v": 0.12}, {"r": 3, "c": 3, "k": "ST", "v": 0.5},
 {"r": 4, "c": 0, "k": "N", "v": 0.68}, {"r": 4, "c": 0, "k": "SR", "v": 0.02}, {"r": 4, "c": 0, "k": "ST", "v": 0.3},
 {"r": 4, "c": 1, "k": "N", "v": 0.25}, {"r": 4, "c": 1, "k": "LDST", "v": 0.35}, {"r": 4, "c": 1, "k": "LDSR", "v": 0.03}, {"r": 4, "c": 1, "k": "SR", "v": 0.32}, {"r": 4, "c": 1, "k": "ST", "v": 0.05},
 {"r": 4, "c": 2, "k": "N", "v": 0.5}, {"r": 4, "c": 2, "k": "SR", "v": 0.05}, {"r": 4, "c": 2, "k": "ST", "v": 0.45},
 {"r": 4, "c": 3, "k": "N", "v": 0.4}, {"r": 4, "c": 3, "k": "LDST", "v": 0.05}, {"r": 4, "c": 3, "k": "SR", "v": 0.1}, {"r": 4, "c": 3, "k": "ST", "v": 0.45},
 {"r": 4, "c": 4, "k": "N", "v": 0.45}, {"r": 4, "c": 4, "k": "LDST", "v": 0.05}, {"r": 4, "c": 4, "k": "SR", "v": 0.05}, {"r": 4, "c": 4, "k": "ST", "v": 0.45},
 {"r": 5, "c": 0, "k": "N", "v": 0.98}, {"r": 5, "c": 0, "k": "LDSR", "v": 0.02},
 {"r": 5, "c": 1, "k": "N", "v": 0.57}, {"r": 5, "c": 1, "k": "SR", "v": 0.03}, {"r": 5, "c": 1, "k": "ST", "v": 0.4},
 {"r": 5, "c": 2, "k": "N", "v": 0.5}, {"r": 5, "c": 2, "k": "LDST", "v": 0.05}, {"r": 5, "c": 2, "k": "SR", "v": 0.05}, {"r": 5, "c": 2, "k": "ST", "v": 0.4},
 {"r": 5, "c": 3, "k": "N", "v": 0.47}, {"r": 5, "c": 3, "k": "SR", "v": 0.03}, {"r": 5, "c": 3, "k": "ST", "v": 0.5},
 {"r": 5, "c": 4, "k": "N", "v": 0.5}, {"r": 5, "c": 4, "k": "SR", "v": 0.05}, {"r": 5, "c": 4, "k": "ST", "v": 0.45},
 {"r": 5, "c": 5, "k": "N", "v": 0.62}, {"r": 5, "c": 5, "k": "SR", "v": 0.03}, {"r": 5, "c": 5, "k": "ST", "v": 0.35},
 {"r": 6, "c": 0, "k": "N", "v": 0.62}, {"r": 6, "c": 0, "k": "SR", "v": 0.03}, {"r": 6, "c": 0, "k": "ST", "v": 0.35},
 {"r": 6, "c": 1, "k": "N", "v": 0.39}, {"r": 6, "c": 1, "k": "LDST", "v": 0.06}, {"r": 6, "c": 1, "k": "SR", "v": 0.1}, {"r": 6, "c": 1, "k": "ST", "v": 0.45},
 {"r": 6, "c": 2, "k": "N", "v": 0.42}, {"r": 6, "c": 2, "k": "LDST", "v": 0.05}, {"r": 6, "c": 2, "k": "SR", "v": 0.08}, {"r": 6, "c": 2, "k": "ST", "v": 0.45},
 {"r": 6, "c": 3, "k": "LDST", "v": 1},
 {"r": 6, "c": 4, "k": "N", "v": 0.45}, {"r": 6, "c": 4, "k": "LDST", "v": 0.04}, {"r": 6, "c": 4, "k": "SR", "v": 0.06}, {"r": 6, "c": 4, "k": "ST", "v": 0.45},
 {"r": 6, "c": 5, "k": "N", "v": 0.32}, {"r": 6, "c": 5, "k": "LDST", "v": 0.08}, {"r": 6, "c": 5, "k": "SR", "v": 0.1}, {"r": 6, "c": 5, "k": "ST", "v": 0.5},
 {"r": 6, "c": 6, "k": "N", "v": 0.5}, {"r": 6, "c": 6, "k": "SR", "v": 0.05}, {"r": 6, "c": 6, "k": "ST", "v": 0.45}
],
"hp": [
 {"r": 0, "c": 0, "k": "N", "v": 0.62}, {"r": 0, "c": 0, "k": "LDSR", "v": 0.02}, {"r": 0, "c": 0, "k": "LD", "v": 0.23}, {"r": 0, "c": 0, "k": "SR", "v": 0.13},
 {"r": 1, "c": 0, "k": "N", "v": 0.72}, {"r": 1, "c": 0, "k": "LDSR", "v": 0.03}, {"r": 1, "c": 0, "k": "LD", "v": 0.15}, {"r": 1, "c": 0, "k": "SR", "v": 0.1},
 {"r": 1, "c": 1, "k": "N", "v": 0.28}, {"r": 1, "c": 1, "k": "LDSR", "v": 0.07}, {"r": 1, "c": 1, "k": "LD", "v": 0.45}, {"r": 1, "c": 1, "k": "SR", "v": 0.2},
 {"r": 2, "c": 0, "k": "N", "v": 0.7}, {"r": 2, "c": 0, "k": "LDSR", "v": 0.05}, {"r": 2, "c": 0, "k": "LD", "v": 0.15}, {"r": 2, "c": 0, "k": "SR", "v": 0.1},
 {"r": 2, "c": 1, "k": "N", "v": 0.47}, {"r": 2, "c": 1, "k": "LDSR", "v": 0.08}, {"r": 2, "c": 1, "k": "LD", "v": 0.3}, {"r": 2, "c": 1, "k": "SR", "v": 0.15},
 {"r": 2, "c": 2, "k": "N", "v": 0.96}, {"r": 2, "c": 2, "k": "STSR", "v": 0.04},
 {"r": 3, "c": 0, "k": "N", "v": 0.72}, {"r": 3, "c": 0, "k": "LDSR", "v": 0.03}, {"r": 3, "c": 0, "k": "LD", "v": 0.15}, {"r": 3, "c": 0, "k": "SR", "v": 0.1},
 {"r": 3, "c": 1, "k": "N", "v": 0.78}, {"r": 3, "c": 1, "k": "LD", "v": 0.12}, {"r": 3, "c": 1, "k": "SR", "v": 0.1},
 {"r": 3, "c": 2, "k": "N", "v": 0.7}, {"r": 3, "c": 2, "k": "LDSR", "v": 0.03}, {"r": 3, "c": 2, "k": "LD", "v": 0.17}, {"r": 3, "c": 2, "k": "SR", "v": 0.1},
 {"r": 3, "c": 3, "k": "N", "v": 0.75}, {"r": 3, "c": 3, "k": "LD", "v": 0.13}, {"r": 3, "c": 3, "k": "SR", "v": 0.12},
 {"r": 4, "c": 0, "k": "N", "v": 0.7}, {"r": 4, "c": 0, "k": "LDSR", "v": 0.03}, {"r": 4, "c": 0, "k": "LD", "v": 0.15}, {"r": 4, "c": 0, "k": "SR", "v": 0.12},
 {"r": 4, "c": 1, "k": "N", "v": 0.45}, {"r": 4, "c": 1, "k": "LDSR", "v": 0.08}, {"r": 4, "c": 1, "k": "LD", "v": 0.27}, {"r": 4, "c": 1, "k": "SR", "v": 0.2},
 {"r": 4, "c": 2, "k": "N", "v": 0.72}, {"r": 4, "c": 2, "k": "LDSR", "v": 0.03}, {"r": 4, "c": 2, "k": "LD", "v": 0.15}, {"r": 4, "c": 2, "k": "SR", "v": 0.1},
 {"r": 4, "c": 3, "k": "N", "v": 0.75}, {"r": 4, "c": 3, "k": "LD", "v": 0.12}, {"r": 4, "c": 3, "k": "SR", "v": 0.13},
 {"r": 4, "c": 4, "k": "N", "v": 0.55}, {"r": 4, "c": 4, "k": "LDSR", "v": 0.1}, {"r": 4, "c": 4, "k": "LD", "v": 0.25}, {"r": 4, "c": 4, "k": "SR", "v": 0.1},
 {"r": 5, "c": 0, "k": "N", "v": 0.78}, {"r": 5, "c": 0, "k": "LD", "v": 0.12}, {"r": 5, "c": 0, "k": "SR", "v": 0.1},
 {"r": 5, "c": 1, "k": "N", "v": 0.8}, {"r": 5, "c": 1, "k": "LD", "v": 0.1}, {"r": 5, "c": 1, "k": "SR", "v": 0.1},
 {"r": 5, "c": 2, "k": "N", "v": 0.75}, {"r": 5, "c": 2, "k": "LD", "v": 0.15}, {"r": 5, "c": 2, "k": "SR", "v": 0.1},
 {"r": 5, "c": 3, "k": "N", "v": 0.72}, {"r": 5, "c": 3, "k": "LDSR", "v": 0.03}, {"r": 5, "c": 3, "k": "LD", "v": 0.15}, {"r": 5, "c": 3, "k": "SR", "v": 0.1},
 {"r": 5, "c": 4, "k": "N", "v": 0.7}, {"r": 5, "c": 4, "k": "LDSR", "v": 0.05}, {"r": 5, "c": 4, "k": "LD", "v": 0.17}, {"r": 5, "c": 4, "k": "SR", "v": 0.08},
 {"r": 5, "c": 5, "k": "N", "v": 0.78}, {"r": 5, "c": 5, "k": "LD", "v": 0.1}, {"r": 5, "c": 5, "k": "SR", "v": 0.12},
 {"r": 6, "c": 0, "k": "N", "v": 0.78}, {"r": 6, "c": 0, "k": "LD", "v": 0.12}, {"r": 6, "c": 0, "k": "SR", "v": 0.1},
 {"r": 6, "c": 1, "k": "N", "v": 0.78}, {"r": 6, "c": 1, "k": "LD", "v": 0.12}, {"r": 6, "c": 1, "k": "SR", "v": 0.1},
 {"r": 6, "c": 2, "k": "N", "v": 0.75}, {"r": 6, "c": 2, "k": "LD", "v": 0.15}, {"r": 6, "c": 2, "k": "SR", "v": 0.1},
 {"r": 6, "c": 3, "k": "N", "v": 0.75}, {"r": 6, "c": 3, "k": "LD", "v": 0.15}, {"r": 6, "c": 3, "k": "SR", "v": 0.1},
 {"r": 6, "c": 4, "k": "N", "v": 0.72}, {"r": 6, "c": 4, "k": "LDSR", "v": 0.03}, {"r": 6, "c": 4, "k": "LD", "v": 0.15}, {"r": 6, "c": 4, "k": "SR", "v": 0.1},
 {"r": 6, "c": 5, "k": "N", "v": 0.78}, {"r": 6, "c": 5, "k": "LD", "v": 0.12}, {"r": 6, "c": 5, "k": "SR", "v": 0.1},
 {"r": 6, "c": 6, "k": "N", "v": 0.72}, {"r": 6, "c": 6, "k": "LDSR", "v": 0.05}, {"r": 6, "c": 6, "k": "LD", "v": 0.13}, {"r": 6, "c": 6, "k": "SR", "v": 0.1}
]
}
}
